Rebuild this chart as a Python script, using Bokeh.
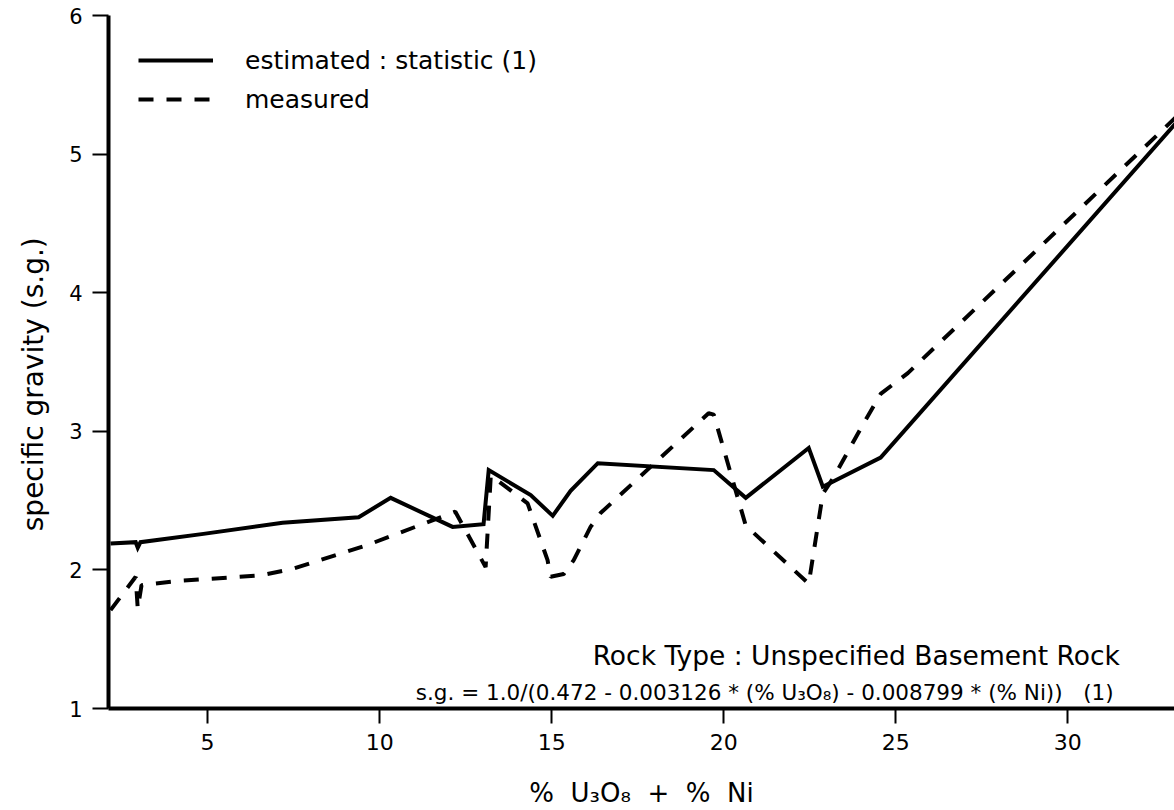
from bokeh.plotting import figure
from bokeh.models import Range1d, FixedTicker, Legend, LegendItem, Label
from bokeh.embed import file_html
from bokeh.resources import INLINE

# estimated : statistic (1)  -- solid line
est_x = [2.18, 2.91, 2.97, 3.05, 4.88, 7.18, 9.39, 10.32, 12.12, 13.02, 13.17,
         14.39, 15.03, 15.55, 16.34, 19.71, 20.64, 22.47, 22.88, 24.56, 33.2]
est_y = [2.19, 2.20, 2.16, 2.20, 2.26, 2.34, 2.38, 2.52, 2.31, 2.33, 2.72,
         2.54, 2.39, 2.57, 2.77, 2.72, 2.52, 2.88, 2.60, 2.81, 5.24]

# measured -- dashed line
meas_x = [2.18, 2.91, 2.97, 3.08, 4.13, 6.54, 7.50, 9.65, 12.20, 13.08, 13.23,
          13.72, 14.30, 14.88, 14.97, 15.35, 15.64, 16.13, 16.42, 19.56, 19.71,
          20.64, 22.47, 22.88, 23.20, 24.07, 24.56, 25.35, 33.2]
meas_y = [1.71, 1.95, 1.72, 1.89, 1.92, 1.96, 2.01, 2.18, 2.42, 2.02, 2.68,
          2.59, 2.48, 2.07, 1.95, 1.97, 2.07, 2.31, 2.41, 3.13, 3.12,
          2.32, 1.90, 2.55, 2.67, 3.06, 3.27, 3.42, 5.28]

x_ticks = [5, 10, 15, 20, 25, 30]
y_ticks = [1, 2, 3, 4, 5, 6]

legend_labels = ["estimated : statistic (1)", "measured"]
rock_type = "Rock Type : Unspecified Basement Rock"
formula = "s.g. = 1.0/(0.472 - 0.003126 * (% U\u2083O\u2088) - 0.008799 * (% Ni))\u00a0\u00a0 (1)"
x_label = "%\u00a0 U\u2083O\u2088 \u00a0+\u00a0 %\u00a0 Ni"
y_label = "specific gravity (s.g.)" + "\u00a0" * 5

FONT = "DejaVu Sans"

p = figure(width=1174, height=810, output_backend="svg", toolbar_location=None,
           x_range=Range1d(2.12, 33.1), y_range=Range1d(1, 6),
           min_border_left=108, min_border_right=0, min_border_top=15,
           min_border_bottom=102)
p.outline_line_color = None
p.xgrid.visible = False
p.ygrid.visible = False
p.background_fill_color = "white"
p.border_fill_color = "white"

for ax in (p.xaxis[0], p.yaxis[0]):
    ax.axis_line_width = 4
    ax.axis_line_color = "black"
    ax.major_tick_line_width = 2
    ax.major_tick_line_color = "black"
    ax.major_tick_in = 0
    ax.minor_tick_line_color = None
    ax.major_label_text_font = FONT
    ax.major_label_text_color = "black"
    ax.axis_label_text_font = FONT
    ax.axis_label_text_font_style = "normal"
    ax.axis_label_text_color = "black"

p.xaxis[0].ticker = FixedTicker(ticks=x_ticks)
p.yaxis[0].ticker = FixedTicker(ticks=y_ticks)
p.xaxis[0].major_tick_out = 15
p.yaxis[0].major_tick_out = 16
p.xaxis[0].major_label_text_font_size = "22px"
p.yaxis[0].major_label_text_font_size = "21px"
p.xaxis[0].major_label_standoff = 10
p.yaxis[0].major_label_standoff = 10
p.xaxis[0].axis_label = x_label
p.yaxis[0].axis_label = y_label
p.xaxis[0].axis_label_text_font_size = "26px"
p.yaxis[0].axis_label_text_font_size = "28px"
p.xaxis[0].axis_label_standoff = 25
p.yaxis[0].axis_label_standoff = 16

l1 = p.line(est_x, est_y, line_width=4, line_color="black", line_join="miter")
l2 = p.line(meas_x, meas_y, line_width=4, line_color="black", line_dash="15 13")

legend = Legend(items=[LegendItem(label=legend_labels[0], renderers=[l1]),
                       LegendItem(label=legend_labels[1], renderers=[l2])],
                location=(30, 594), glyph_width=75, glyph_height=30,
                label_height=30, spacing=9, label_standoff=32, padding=0,
                margin=0, border_line_alpha=0, background_fill_alpha=0,
                label_text_font=FONT, label_text_font_size="25px",
                label_text_color="black")
p.add_layout(legend, "center")

p.add_layout(Label(x=16.19, y=1.38, text=rock_type, text_font=FONT,
                   text_font_size="26.5px", text_color="black",
                   text_baseline="alphabetic", text_align="left"))
p.add_layout(Label(x=11.05, y=1.115, text=formula, text_font=FONT,
                   text_font_size="21.5px", text_color="black",
                   text_baseline="alphabetic", text_align="left"))

open("out.html", "w").write(file_html(p, INLINE))
